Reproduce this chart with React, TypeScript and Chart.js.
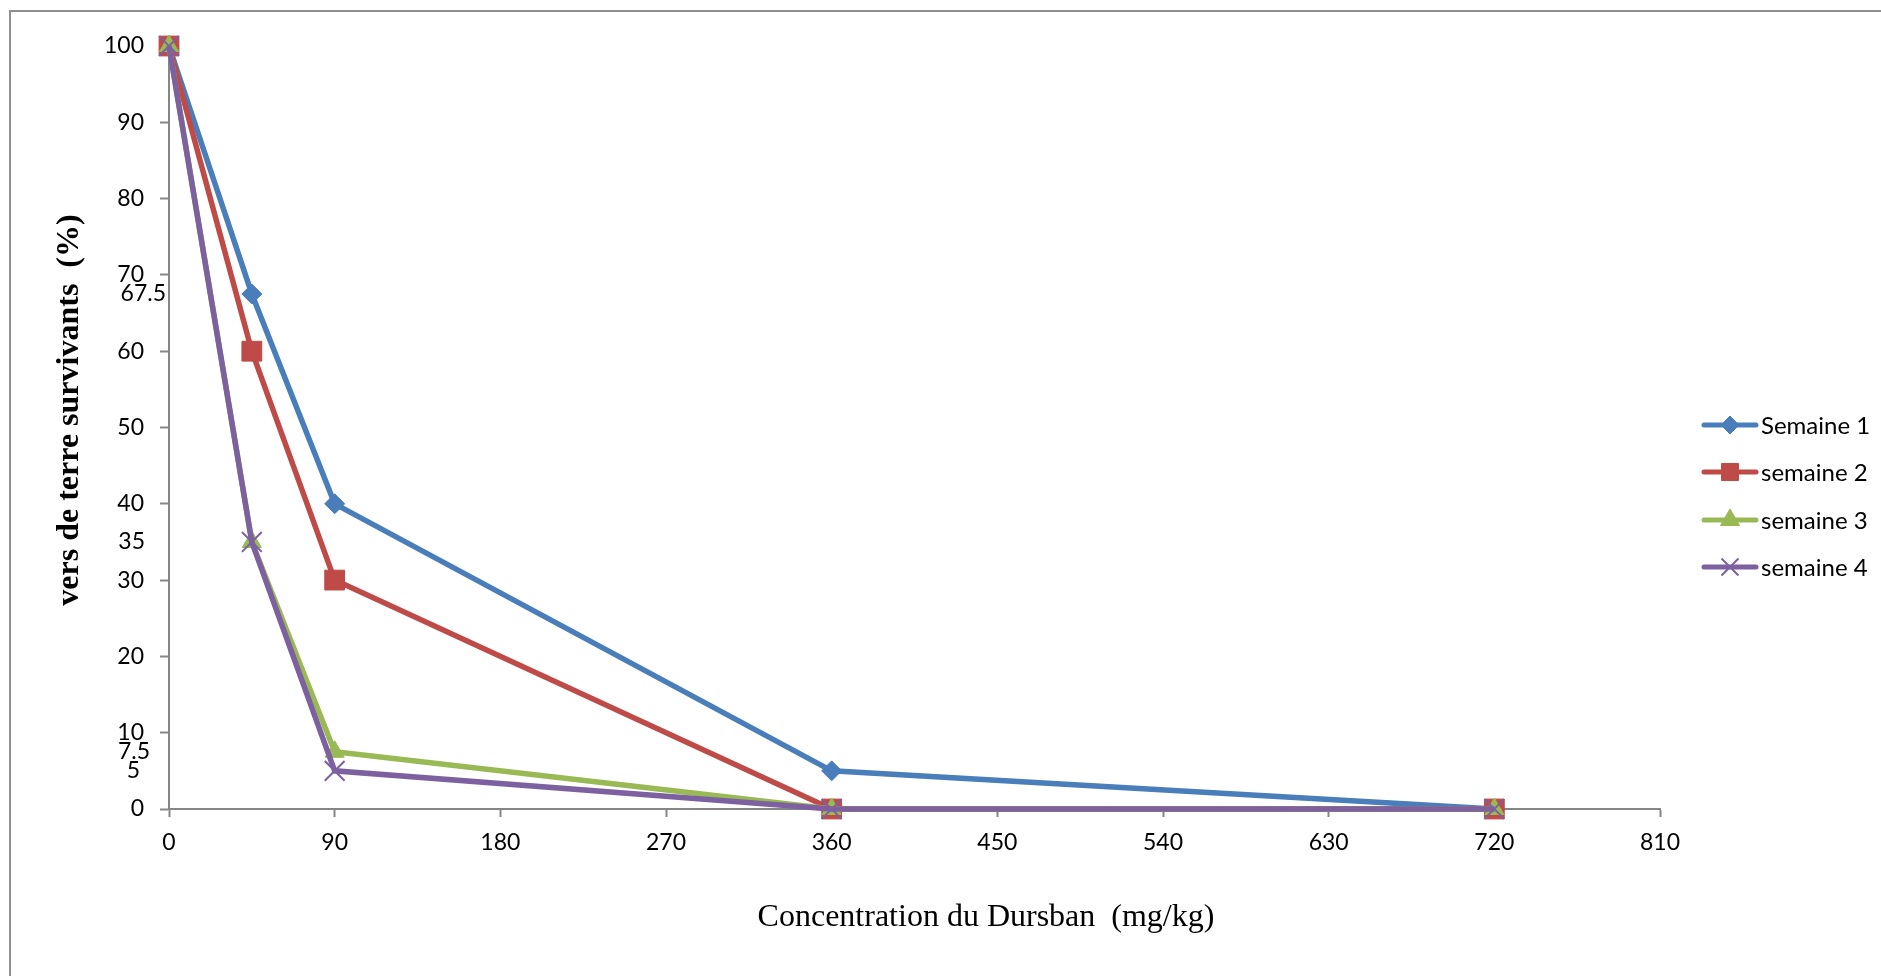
import React, { useEffect, useRef } from 'react';
import { Chart, registerables } from 'chart.js';
import { drawPoint } from 'chart.js/helpers';

Chart.register(...registerables);

// ---- data ----
const concentrations = [0, 45, 90, 360, 720];
const semaine1 = [100, 67.5, 40, 5, 0];
const semaine2 = [100, 60, 30, 0, 0];
const semaine3 = [100, 35, 7.5, 0, 0];
const semaine4 = [100, 35, 5, 0, 0];
const seriesNames = ['Semaine 1', 'semaine 2', 'semaine 3', 'semaine 4'];
const extraYLabels = [67.5, 35, 7.5, 5];
const xTitle = 'Concentration du Dursban  (mg/kg)';
const yTitle = 'vers de terre survivants  (%)';

// ---- styles ----
const colors = ['#4A7EBB', '#BE4B48', '#98B954', '#7D60A0'];
const pointStyles = ['rectRot', 'rect', 'triangle', 'crossRot'];
const pointRadii = [10, 14, 11, 14];
const legendRadii = [9, 12, 11, 12];
const extraLabelRight = [166, 145, 150, 140];
const axisGray = '#868686';
const tickFont = 'Lato';

const overlayPlugin = {
  id: 'overlay',
  afterDraw(chart: any) {
    const ctx = chart.ctx;
    const y = chart.scales.y;
    ctx.save();
    // extra y labels
    ctx.fillStyle = '#000';
    ctx.font = `23px ${tickFont}`;
    ctx.textAlign = 'right';
    ctx.textBaseline = 'middle';
    extraYLabels.forEach((v, i) => {
      ctx.fillText(String(v), extraLabelRight[i], y.getPixelForValue(v));
    });
    // x title
    ctx.font = '32px "Liberation Serif"';
    ctx.textAlign = 'center';
    ctx.textBaseline = 'alphabetic';
    ctx.fillText(xTitle, 986, 926);
    // y title
    ctx.save();
    ctx.translate(78, 410);
    ctx.rotate(-Math.PI / 2);
    ctx.font = 'bold 32px "Liberation Serif"';
    ctx.fillText(yTitle, 0, 0);
    ctx.restore();
    // legend
    const rows = [425, 472, 520, 567];
    seriesNames.forEach((name, i) => {
      const ry = rows[i];
      ctx.strokeStyle = colors[i];
      ctx.lineWidth = 5;
      ctx.lineCap = 'round';
      ctx.beginPath();
      ctx.moveTo(1704, ry);
      ctx.lineTo(1756, ry);
      ctx.stroke();
      ctx.lineCap = 'butt';
      ctx.fillStyle = colors[i];
      ctx.strokeStyle = colors[i];
      ctx.lineWidth = i === 3 ? 2 : 1;
      drawPoint(ctx, { pointStyle: pointStyles[i], radius: legendRadii[i], rotation: 0, borderWidth: ctx.lineWidth } as any, 1730, ry);
      ctx.fillStyle = '#000';
      ctx.font = `24px ${tickFont}`;
      ctx.textAlign = 'left';
      ctx.textBaseline = 'middle';
      ctx.fillText(name, 1761, ry + 1);
    });
    ctx.restore();
  },
};

export default function App() {
  const ref = useRef<HTMLCanvasElement>(null);
  useEffect(() => {
    if (!ref.current) return;
    const series = [semaine1, semaine2, semaine3, semaine4];
    const chart = new Chart(ref.current, {
      type: 'line',
      data: {
        datasets: series.map((s, i) => ({
          label: seriesNames[i],
          data: s.map((v, j) => ({ x: concentrations[j], y: v })),
          borderColor: colors[i],
          backgroundColor: colors[i],
          borderWidth: 5.5,
          pointStyle: pointStyles[i] as any,
          pointRadius: pointRadii[i],
          pointBorderWidth: i === 3 ? 2 : 1,
          pointBackgroundColor: colors[i],
          pointBorderColor: colors[i],
          tension: 0,
          clip: false as any,
          order: 4 - i,
        })),
      },
      options: {
        responsive: false,
        animation: false,
        layout: { padding: { top: 46, right: 221, bottom: 0, left: 0 } },
        plugins: { legend: { display: false }, tooltip: { enabled: false } },
        scales: {
          x: {
            type: 'linear',
            min: 0,
            max: 810,
            ticks: { stepSize: 90, color: '#000', font: { family: tickFont, size: 23 }, padding: 12 },
            grid: { drawOnChartArea: false, drawTicks: true, tickLength: 8, tickWidth: 2, tickColor: axisGray },
            border: { color: axisGray, width: 2 },
            afterFit: (s: any) => { s.height = 167; },
          },
          y: {
            type: 'linear',
            min: 0,
            max: 100,
            ticks: { stepSize: 10, color: '#000', font: { family: tickFont, size: 23 }, padding: 16 },
            grid: { drawOnChartArea: false, drawTicks: true, tickLength: 9, tickWidth: 2, tickColor: axisGray },
            border: { color: axisGray, width: 2 },
            afterFit: (s: any) => { s.width = 169; },
          },
        },
      },
      plugins: [overlayPlugin],
    });
    return () => chart.destroy();
  }, []);
  return (
    <div style={{ position: 'fixed', left: 0, top: 0, width: 1881, height: 976, background: '#fff', overflow: 'hidden' }}>
      <div style={{ position: 'absolute', left: 9, top: 10, right: -10, bottom: -10, borderLeft: '2px solid #8e8e8e', borderTop: '2px solid #8e8e8e' }} />
      <canvas ref={ref} width={1881} height={976} style={{ position: 'absolute', left: 0, top: 0, display: 'block' }} />
    </div>
  );
}
